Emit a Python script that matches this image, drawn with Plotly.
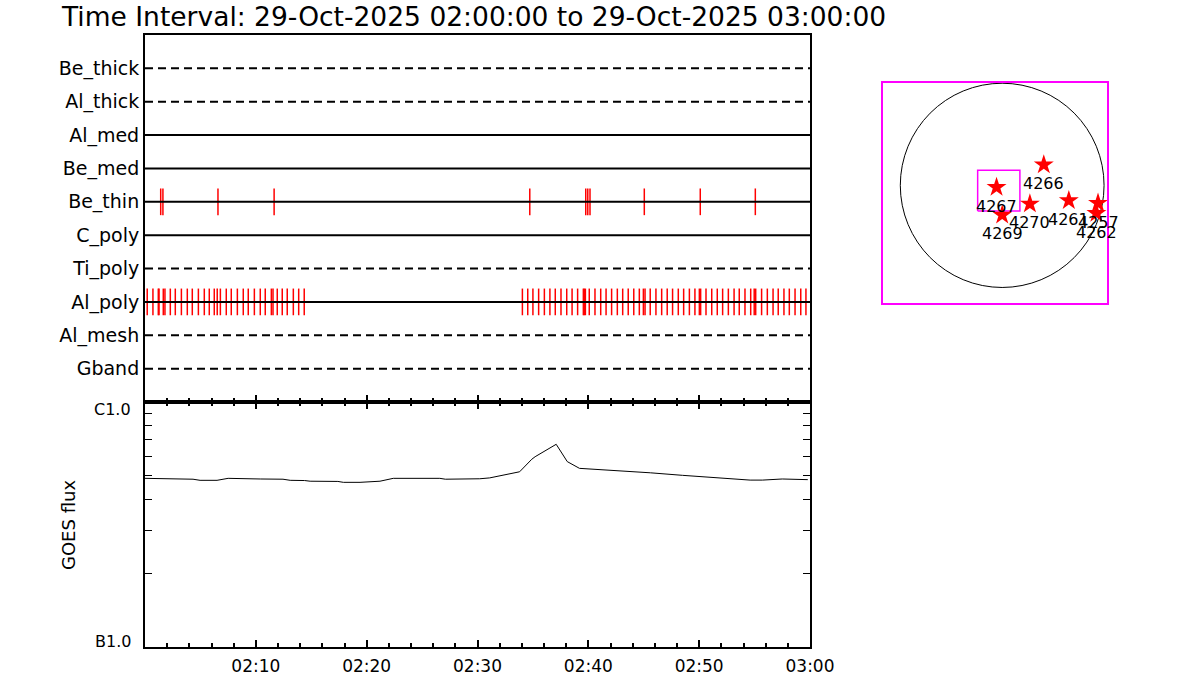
import math
import pandas as pd
import plotly.graph_objects as go

# ---------------- data ----------------
START = "2025-10-29 02:00:00"
END = "2025-10-29 03:00:00"
TITLE = "Time Interval: 29-Oct-2025 02:00:00 to 29-Oct-2025 03:00:00"

# filter channels, bottom (1) to top (10)
channels = ["Gband", "Al_mesh", "Al_poly", "Ti_poly", "C_poly",
            "Be_thin", "Be_med", "Al_med", "Al_thick", "Be_thick"]
channel_dashed = [True, True, False, True, False, False, False, False, True, True]

# exposure times (seconds after 02:00:00)
be_thin_sec = [85, 97, 395, 699, 2083, 2386, 2397, 2409, 2703, 3006, 3304]
al_poly_sec = [12, 43, 72, 76, 99, 108, 137, 164, 197, 229, 256, 289, 321, 348,
               375, 391, 408, 440, 467, 500, 532, 559, 592, 624, 651, 684, 693,
               716, 743, 770, 803, 832, 862,
               2043, 2072, 2100, 2131, 2162, 2192, 2221, 2252, 2283, 2312, 2342,
               2373, 2378, 2384, 2405, 2436, 2467, 2496, 2526, 2557, 2586, 2616,
               2646, 2676, 2698, 2707, 2735, 2766, 2797, 2827, 2856, 2887, 2916,
               2947, 2977, 3001, 3008, 3037, 3068, 3098, 3127, 3158, 3189, 3217,
               3248, 3279, 3298, 3306, 3338, 3369, 3400, 3428, 3459, 3488, 3519,
               3550, 3578]

# GOES flux (W/m^2)
goes_sec = [0, 81, 260, 298, 390, 450, 570, 624, 747, 786, 864, 894, 1044,
            1074, 1164, 1272, 1344, 1596, 1626, 1704, 1812, 1866, 2028, 2094,
            2112, 2226, 2286, 2352, 2490, 2736, 2910, 3096, 3276, 3342, 3450, 3588]
goes_flux = [4.88e-7, 4.86e-7, 4.84e-7, 4.79e-7, 4.79e-7, 4.88e-7, 4.88e-7,
             4.85e-7, 4.84e-7, 4.79e-7, 4.78e-7, 4.75e-7, 4.74e-7, 4.70e-7,
             4.70e-7, 4.75e-7, 4.88e-7, 4.88e-7, 4.84e-7, 4.84e-7, 4.86e-7,
             4.90e-7, 5.19e-7, 5.84e-7, 5.98e-7, 6.72e-7, 5.71e-7, 5.36e-7,
             5.29e-7, 5.14e-7, 5.02e-7, 4.91e-7, 4.80e-7, 4.80e-7, 4.85e-7, 4.82e-7]
goes_tickvals = [1e-7, 1e-6]
goes_ticktext = ["B1.0", "C1.0"]
goes_minor = [2e-7, 3e-7, 4e-7, 5e-7, 6e-7, 7e-7, 8e-7, 9e-7]

time_ticks = ["2025-10-29 02:10", "2025-10-29 02:20", "2025-10-29 02:30",
              "2025-10-29 02:40", "2025-10-29 02:50", "2025-10-29 03:00"]
time_ticktext = ["02:10", "02:20", "02:30", "02:40", "02:50", "03:00"]

# solar disk view (arcsec)
sun_radius = 960
fov_x = [-231, 167]
fov_y = [-240, 143]
ar_numbers = ["4266", "4267", "4269", "4270", "4261", "4257", "4262"]
ar_x = [392, -53, 0, 261, 628, 903, 888]
ar_y = [193, -17, -278, -174, -143, -167, -262]
sun_xrange = [-1123, 983]
sun_yrange = [-1106, 967]

# ---------------- figure ----------------
base = pd.Timestamp(START)
def tt(secs):
    return [base + pd.Timedelta(seconds=s) for s in secs]

FONT = "DejaVu Sans"
W, H = 1200, 700
def px(x):
    return x / W
def py(y):
    return 1 - y / H

fig = go.Figure()

def ticks_trace(secs, level, xa, ya):
    xs, ys = [], []
    for t in tt(secs):
        xs += [t, t, None]
        ys += [level - 0.4, level + 0.4, None]
    return go.Scatter(x=xs, y=ys, mode="lines", line=dict(color="red", width=1.5),
                      xaxis=xa, yaxis=ya, showlegend=False, hoverinfo="skip")

fig.add_trace(ticks_trace(be_thin_sec, channels.index("Be_thin") + 1, "x", "y"))
fig.add_trace(ticks_trace(al_poly_sec, channels.index("Al_poly") + 1, "x", "y"))

for i, (name, dashed) in enumerate(zip(channels, channel_dashed)):
    fig.add_trace(go.Scatter(
        x=[START, END], y=[i + 1, i + 1], mode="lines",
        line=dict(color="black", width=2, dash="8px,5px" if dashed else "solid"),
        xaxis="x", yaxis="y", showlegend=False, hoverinfo="skip"))

fig.add_trace(go.Scatter(x=tt(goes_sec), y=goes_flux, mode="lines",
                         line=dict(color="black", width=1),
                         xaxis="x2", yaxis="y2", showlegend=False))

# solar panel
fig.add_trace(go.Scatter(
    x=[fov_x[0], fov_x[1], fov_x[1], fov_x[0], fov_x[0]],
    y=[fov_y[0], fov_y[0], fov_y[1], fov_y[1], fov_y[0]],
    mode="lines", line=dict(color="magenta", width=1.5),
    xaxis="x3", yaxis="y3", showlegend=False))
fig.add_trace(go.Scatter(
    x=ar_x, y=ar_y, mode="markers",
    marker=dict(symbol="star", size=15, color="red", line=dict(width=0)),
    cliponaxis=False, xaxis="x3", yaxis="y3", showlegend=False))
for n, x, y in zip(ar_numbers, ar_x, ar_y):
    fig.add_annotation(text=n, x=x, y=y, xref="x3", yref="y3", yshift=-19,
                       xanchor="center", yanchor="middle", showarrow=False,
                       font=dict(family=FONT, size=16, color="black"))

fig.add_shape(type="circle", xref="x3", yref="y3",
              x0=-sun_radius, x1=sun_radius, y0=-sun_radius, y1=sun_radius,
              line=dict(color="black", width=1), layer="below")

x_dom = [px(145), px(810)]
tick_font = dict(family=FONT, size=17, color="black")

fig.update_layout(
    template="none",
    width=W, height=H,
    margin=dict(l=0, r=0, t=0, b=0, pad=0, autoexpand=False),
    paper_bgcolor="white", plot_bgcolor="white",
    showlegend=False,
    xaxis=dict(domain=x_dom, anchor="y", type="date", range=[START, END],
               automargin=False,
               showticklabels=False, showgrid=False, zeroline=False,
               showline=True, linecolor="black", linewidth=2, mirror=True,
               ticks="inside", ticklen=7, tickwidth=2, tickcolor="black",
               tickmode="array", tickvals=time_ticks,
               minor=dict(ticks="inside", ticklen=4, tickwidth=2, tickcolor="black",
                          dtick=120000, tick0=START, showgrid=False)),
    yaxis=dict(domain=[py(402), py(35)], anchor="x", range=[0, 11],
               automargin=False,
               tickmode="array", tickvals=list(range(1, 11)), ticktext=channels,
               ticks="", showgrid=False, zeroline=False,
               showline=True, linecolor="black", linewidth=2, mirror=True,
               tickfont=dict(family=FONT, size=19, color="black")),
    xaxis2=dict(domain=x_dom, anchor="y2", type="date", range=[START, END],
                automargin=False,
                showgrid=False, zeroline=False,
                showline=True, linecolor="black", linewidth=2, mirror="ticks",
                ticks="inside", ticklen=7, tickwidth=2, tickcolor="black",
                tickmode="array", tickvals=time_ticks, ticktext=time_ticktext,
                tickfont=tick_font, ticklabelstandoff=3,
                minor=dict(ticks="inside", ticklen=4, tickwidth=2, tickcolor="black",
                           dtick=120000, tick0=START, showgrid=False)),
    yaxis2=dict(domain=[py(647), py(402)], anchor="x2", type="log", range=[-7, -6],
                automargin=False, showticklabels=False,
                tickmode="array", tickvals=goes_tickvals,
                showgrid=False, zeroline=False,
                showline=True, linecolor="black", linewidth=2, mirror="ticks",
                ticks="inside", ticklen=7, tickwidth=1, tickcolor="black",
                minor=dict(ticks="inside", ticklen=7, tickwidth=1, tickcolor="black",
                           tickmode="array", tickvals=goes_minor, showgrid=False)),
    xaxis3=dict(domain=[px(883), px(1106.5)], anchor="y3", range=sun_xrange,
                automargin=False,
                showticklabels=False, ticks="", showgrid=False, zeroline=False,
                showline=True, linecolor="magenta", linewidth=1.5, mirror=True),
    yaxis3=dict(domain=[py(303), py(82.5)], anchor="x3", range=sun_yrange,
                automargin=False,
                showticklabels=False, ticks="", showgrid=False, zeroline=False,
                showline=True, linecolor="magenta", linewidth=1.5, mirror=True),
)

# GOES class labels, kept inside the axis range as in the original
for val, lab, shift in zip(goes_tickvals, goes_ticktext, [6, -7]):
    fig.add_annotation(text=lab, xref="x2 domain", yref="y2", x=0, y=math.log10(val),
                       xanchor="right", yanchor="middle", xshift=-12, yshift=shift,
                       showarrow=False, font=dict(family=FONT, size=16, color="black"))

fig.add_annotation(text=TITLE, xref="paper", yref="paper", x=px(59), y=py(16),
                   xanchor="left", yanchor="middle", showarrow=False,
                   font=dict(family=FONT, size=26.5, color="black"))
fig.add_annotation(text="GOES flux", xref="paper", yref="paper", x=px(68), y=py(525),
                   xanchor="center", yanchor="middle", textangle=-90, showarrow=False,
                   font=dict(family=FONT, size=18, color="black"))

fig.write_html("out.html",
               config={"displayModeBar": False},
               post_script="document.body.style.margin='0px';"
                           "document.body.style.padding='0px';")
